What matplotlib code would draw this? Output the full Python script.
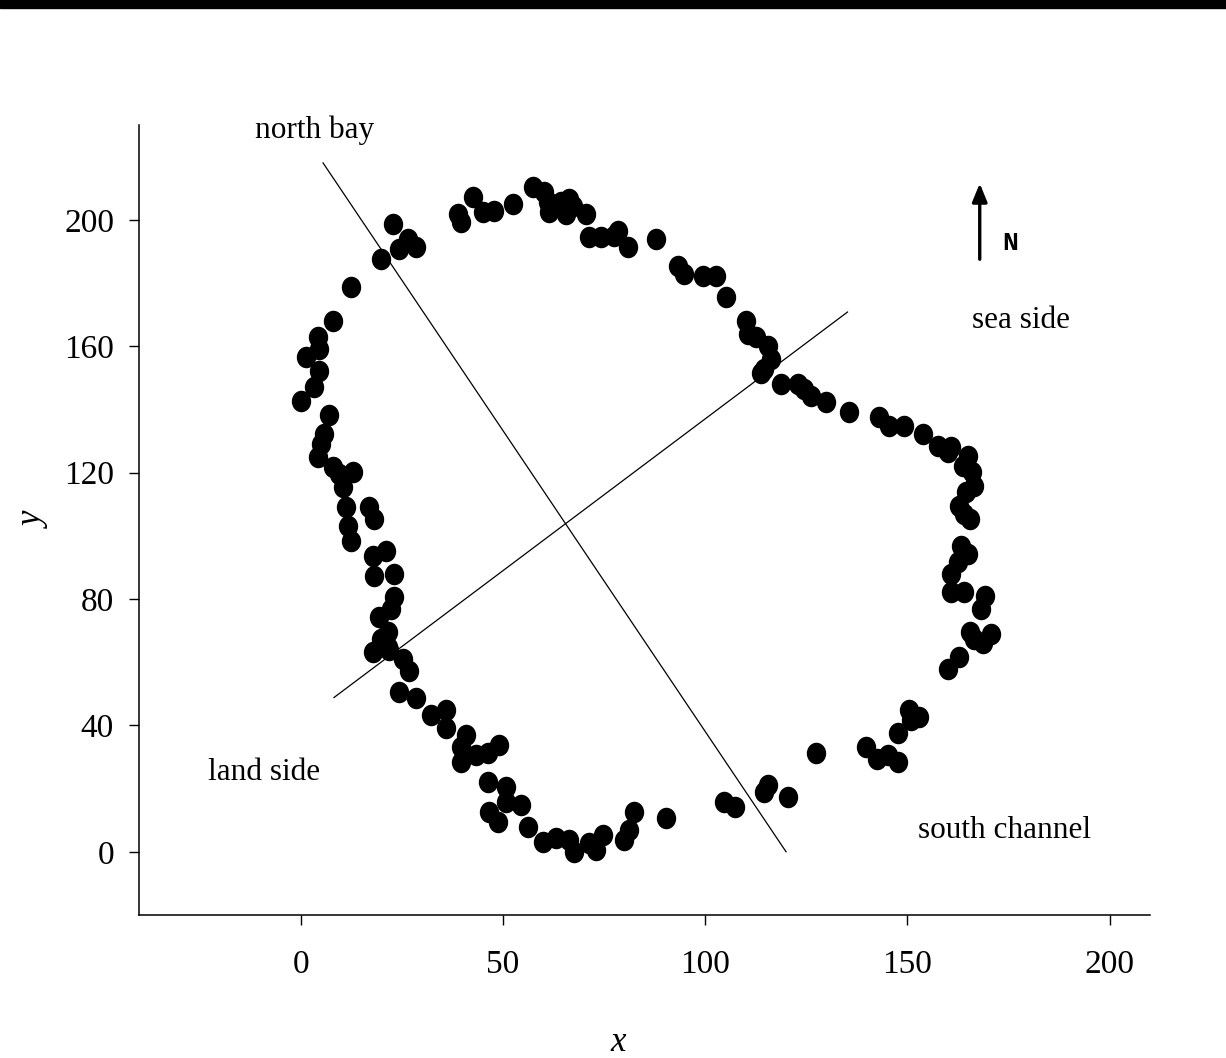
import matplotlib

matplotlib.use("Agg")
import matplotlib.pyplot as plt
from matplotlib.path import Path
from matplotlib.patches import Rectangle
from matplotlib.transforms import Affine2D

# Survey points around the shoreline
xs = [4.2, 4.9, 5.7, 6.9, 0.0, 3.2, 4.4, 1.2, 4.4, 4.2, 7.9, 12.4, 19.8, 22.7,
      24.2, 26.5, 28.4, 38.8, 39.6, 42.5, 45.0, 47.7, 52.4, 57.4, 60.1, 61.1,
      61.3, 64.3, 66.3, 65.5, 67.2, 70.5, 71.2, 74.2, 78.4, 77.4, 80.8, 87.8,
      93.4, 94.7, 99.4, 102.6, 105.1, 110.0, 110.5, 112.5, 115.5, 116.2, 114.5,
      113.7, 118.7, 122.9, 124.4, 126.1, 129.8, 135.5, 142.9, 145.4, 149.1,
      153.8, 157.7, 160.0, 160.7, 164.9, 163.7, 166.1, 166.4, 164.4, 162.7,
      163.9, 165.6, 163.2, 164.9, 162.4, 160.7, 160.7, 163.9, 169.3, 168.1,
      165.6, 166.4, 170.6, 168.6, 162.7, 160.0, 150.3, 152.8, 150.8, 147.6,
      139.7, 142.6, 145.1, 147.8, 127.3, 115.5, 114.5, 120.6, 104.6, 107.5,
      90.2, 82.3, 81.1, 79.9, 74.7, 72.9, 71.2, 67.5, 66.3, 63.0, 59.8, 56.1,
      48.7, 46.5, 54.4, 50.7, 50.7, 46.2, 48.9, 46.2, 43.3, 39.6, 39.6, 40.8,
      35.8, 35.8, 32.1, 28.4, 24.2, 26.7, 25.2, 21.5, 21.8, 17.8, 19.8, 21.5,
      19.3, 22.2, 23.0, 23.0, 18.0, 21.0, 17.8, 12.4, 11.6, 18.0, 16.8, 11.1,
      10.4, 12.9, 9.4, 7.9]
ys = [124.9, 129.0, 132.2, 138.2, 142.6, 147.1, 152.1, 156.6, 159.1, 162.9,
      168.0, 178.8, 187.6, 198.7, 190.8, 194.0, 191.4, 201.9, 199.4, 207.3,
      202.5, 202.9, 205.1, 210.5, 208.9, 205.7, 202.5, 205.7, 206.7, 201.9,
      204.4, 201.9, 194.6, 194.6, 196.5, 194.9, 191.4, 194.0, 185.4, 182.9,
      182.3, 182.3, 175.6, 168.0, 163.9, 162.9, 160.1, 155.9, 152.8, 151.5,
      148.0, 148.0, 146.4, 144.2, 142.3, 139.1, 137.6, 134.7, 134.7, 132.2,
      128.4, 126.5, 128.0, 125.2, 122.0, 120.1, 115.7, 113.8, 109.4, 106.8,
      105.2, 96.7, 94.1, 91.6, 87.8, 82.1, 82.1, 80.8, 76.7, 69.4, 67.2, 68.8,
      66.2, 61.5, 57.7, 45.0, 42.5, 41.8, 37.7, 33.3, 29.2, 30.7, 28.5, 31.4,
      21.2, 19.0, 17.4, 15.8, 14.3, 10.8, 12.7, 7.0, 3.8, 5.4, 0.6, 2.9, 0.0,
      3.8, 4.4, 3.2, 7.9, 9.5, 12.7, 14.9, 15.8, 20.6, 22.2, 33.9, 31.4, 30.7,
      28.5, 33.3, 37.1, 39.3, 45.0, 43.4, 48.8, 50.7, 57.1, 60.9, 64.7, 64.0,
      63.1, 67.2, 69.4, 74.2, 76.7, 80.5, 87.8, 87.2, 95.1, 93.5, 98.3, 103.0,
      105.2, 109.0, 109.0, 115.4, 120.1, 119.5, 121.7]

# Two transect lines
line_a_x = [5.5, 120.0]
line_a_y = [218.0, 0.0]
line_b_x = [8.2, 135.2]
line_b_y = [48.8, 170.8]

x_ticks = [0, 50, 100, 150, 200]
y_ticks = [0, 40, 80, 120, 160, 200]

serif = "Liberation Serif"

fig = plt.figure(figsize=(12.26, 10.58), dpi=100)
# black strip along the top edge
fig.patches.append(Rectangle((0, 1 - 8 / 1058), 1, 8 / 1058,
                             transform=fig.transFigure, color="black", zorder=10))

ax = fig.add_axes([0.1134, 0.1352, 0.8246, 0.7467])

# slightly tall ellipse marker, like the original dots
ell = Path.unit_circle().transformed(Affine2D().scale(0.9, 1.0))
ax.plot(xs, ys, linestyle="none", marker=ell, markersize=15.5,
        color="black", markeredgewidth=0)

ax.plot(line_a_x, line_a_y, color="black", lw=0.9)
ax.plot(line_b_x, line_b_y, color="black", lw=0.9)

ax.set_xlim(-40, 210)
ax.set_ylim(-20, 230)
ax.set_xticks(x_ticks)
ax.set_yticks(y_ticks)

for s in ["top", "right"]:
    ax.spines[s].set_visible(False)
for s in ["left", "bottom"]:
    ax.spines[s].set_linewidth(1.1)

ax.tick_params(direction="out", length=7, width=1.0)
ax.tick_params(axis="x", pad=18)
ax.tick_params(axis="y", pad=11)
for lab in ax.get_xticklabels() + ax.get_yticklabels():
    lab.set_fontfamily(serif)
    lab.set_fontsize(24)

ax.set_xlabel("x", fontfamily=serif, fontstyle="italic", fontsize=25)
ax.set_ylabel("y", fontfamily=serif, fontstyle="italic", fontsize=25)
ax.xaxis.set_label_coords(0.474, -0.14)
ax.yaxis.set_label_coords(-0.087, 0.5)

txt = dict(fontfamily=serif, fontsize=22.5, ha="center", va="center",
           clip_on=False)
ax.text(3.5, 228.3, "north bay", **txt)
ax.text(178, 168.1, "sea side", **txt)
ax.text(-9.1, 25.1, "land side", **txt)
ax.text(174, 6.7, "south channel", **txt)

# north arrow
ax.annotate("", xy=(167.9, 211.5), xytext=(167.9, 187.5),
            arrowprops=dict(arrowstyle="-|>,head_length=1.1,head_width=0.45",
                            color="black", lw=2.4, shrinkA=0, shrinkB=0))
ax.text(175.5, 192.5, "N", fontfamily="Liberation Mono", fontweight="bold",
        fontsize=19, ha="center", va="center")

fig.savefig("out.png", dpi=100)
